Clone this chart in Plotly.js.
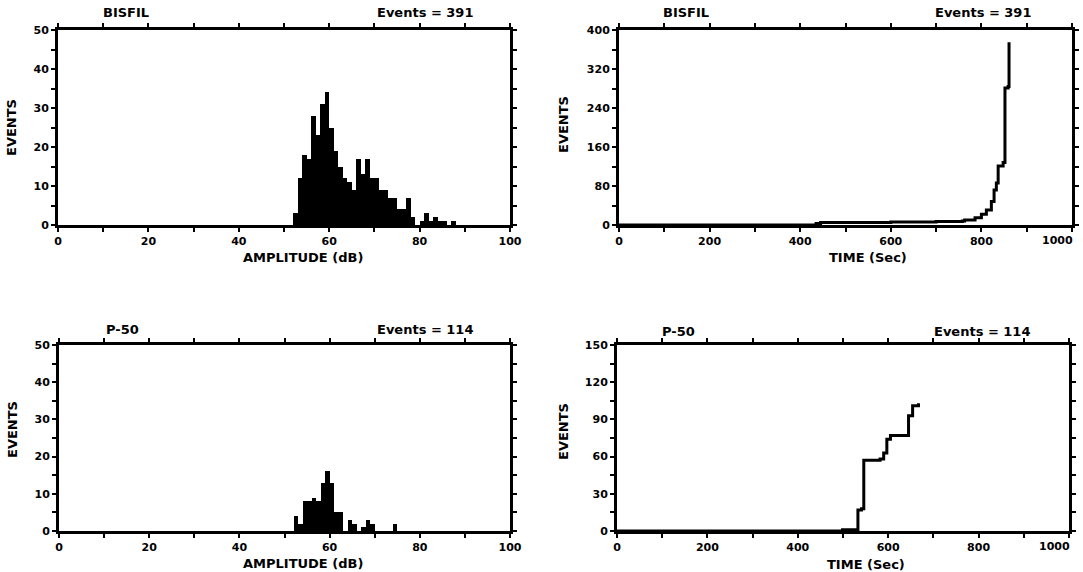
<!DOCTYPE html>
<html>
<head>
<meta charset="utf-8">
<script src="https://cdn.plot.ly/plotly-3.0.1.min.js"></script>
<style>
  html, body { margin: 0; padding: 0; background: #ffffff; }
  #chart { width: 1083px; height: 572px; }
</style>
</head>
<body>
<div id="chart"></div>
<script>
// ---- Data ----
// Amplitude histograms: 1 dB bins, lower edge of each bin in dB
const bisfilAmpBins   = [52,53,54,55,56,57,58,59,60,61,62,63,64,65,66,67,68,69,70,71,72,73,74,75,76,77,78,79,80,81,82,83,84,85,86,87];
const bisfilAmpCounts = [3,12,18,17,28,23,31,34,25,19,15,12,11,9,17,13,17,12,12,9,9,7,7,4,4,7,2,0,1,3,1,2,1,1,0,1];

const p50AmpBins   = [52,53,54,55,56,57,58,59,60,61,62,63,64,65,66,67,68,69,70,71,72,73,74];
const p50AmpCounts = [4,2,8,8,9,8,13,16,13,5,5,0,3,2,0,1,3,2,0,0,0,0,2];

// Cumulative events vs time (s)
const bisfilTime   = [0,435,445,600,700,758,763,786,800,811,822,828,833,837,848,852,859,861];
const bisfilCum    = [0,3,5,6,7,8,10,15,22,31,48,72,86,121,128,281,284,375];

const p50Time = [0,499,533,541,546,582,590,597,605,645,654,667];
const p50Cum  = [0,1,17,18,57,58,63,74,77,93,101,103];

const ampTickVals  = [0,20,40,60,80,100];
const timeTickVals = [0,200,400,600,800,1000];
const bisfilCumTicks = [0,80,160,240,320,400];
const p50CumTicks    = [0,30,60,90,120,150];
const ampEventTicks  = [0,10,20,30,40,50];

const titles = {
  tl: ["BISFIL", "Events = 391"],
  tr: ["BISFIL", "Events = 391"],
  bl: ["P-50",   "Events = 114"],
  br: ["P-50",   "Events = 114"]
};

// ---- Helpers ----
const W = 1083, H = 572;
const FONT = {family: "DejaVu Sans, Liberation Sans, sans-serif", size: 11, color: "#000", weight: "bold"};
const px = v => v / W;
const py = v => 1 - v / H;

function axisX(dom, range, tickvals, minorStep, anchor, hideLast) {
  const txt = tickvals.map(String);
  if (hideLast) txt[txt.length - 1] = "";
  return {
    domain: dom, range: range, anchor: anchor,
    tickmode: "array", tickvals: tickvals, ticktext: txt,
    ticks: "outside", ticklen: 4, tickwidth: 2, tickcolor: "#000",
    minor: {dtick: minorStep, ticks: "outside", ticklen: 4, tickwidth: 2, tickcolor: "#000"},
    showline: true, linewidth: 3, linecolor: "#000", mirror: "allticks",
    showgrid: false, zeroline: false, tickfont: FONT, fixedrange: true,
    ticklabeloverflow: "allow"
  };
}
function axisY(dom, range, tickvals, minorStep, anchor) {
  return {
    domain: dom, range: range, anchor: anchor,
    tickmode: "array", tickvals: tickvals, ticktext: tickvals.map(String),
    ticks: "outside", ticklen: 4, tickwidth: 2, tickcolor: "#000",
    minor: {dtick: minorStep, tick0: 0, ticks: "outside", ticklen: 4, tickwidth: 2, tickcolor: "#000"},
    showline: true, linewidth: 3, linecolor: "#000", mirror: "allticks",
    showgrid: false, zeroline: false, tickfont: FONT, fixedrange: true,
    ticklabeloverflow: "allow"
  };
}

// Panel geometry in pixels [left, right, top, bottom]
const G = {
  tl: [58, 510, 30, 225],
  tr: [619, 1072, 30, 225],
  bl: [59, 510, 345, 531],
  br: [617, 1069, 345, 531]
};
const xd = g => [px(g[0]), px(g[1])];
const yd = g => [py(g[3]), py(g[2])];

const traces = [
  {type: "bar", x: bisfilAmpBins.map(b => b + 0.5), y: bisfilAmpCounts, width: 1,
   marker: {color: "#000", line: {width: 0}}, xaxis: "x", yaxis: "y"},
  {type: "scatter", mode: "lines", x: bisfilTime, y: bisfilCum, line: {shape: "hv", color: "#000", width: 3},
   xaxis: "x2", yaxis: "y2"},
  {type: "bar", x: p50AmpBins.map(b => b + 0.5), y: p50AmpCounts, width: 1,
   marker: {color: "#000", line: {width: 0}}, xaxis: "x3", yaxis: "y3"},
  {type: "scatter", mode: "lines", x: p50Time, y: p50Cum, line: {shape: "hv", color: "#000", width: 3},
   xaxis: "x4", yaxis: "y4"}
];

const TFONT = {family: FONT.family, size: 13, color: "#000", weight: "bold"};
function ann(text, x, y, opts) {
  return Object.assign({text: text, x: px(x), y: py(y), xref: "paper", yref: "paper",
    showarrow: false, font: TFONT, xanchor: "center", yanchor: "middle"}, opts || {});
}

const annotations = [
  ann(titles.tl[0], 126, 13), ann(titles.tl[1], 425, 13),
  ann(titles.tr[0], 686, 13), ann(titles.tr[1], 983, 13),
  ann(titles.bl[0], 122, 329), ann(titles.bl[1], 425, 329),
  ann(titles.br[0], 678, 331), ann(titles.br[1], 982, 331),
  ann("AMPLITUDE (dB)", 303, 257), ann("TIME (Sec)", 868, 257),
  ann("AMPLITUDE (dB)", 303, 563), ann("TIME (Sec)", 866, 564),
  ann("EVENTS", 12, 128, {textangle: -90}), ann("EVENTS", 563, 125, {textangle: -90}),
  ann("EVENTS", 12, 430, {textangle: -90}), ann("EVENTS", 563, 432, {textangle: -90}),
  // last time tick labels sit flush against the right frame, as in the reference
  ann(String(timeTickVals[timeTickVals.length - 1]), 1075, 240.5, {xanchor: "right", font: FONT}),
  ann(String(timeTickVals[timeTickVals.length - 1]), 1072, 546.5, {xanchor: "right", font: FONT})
];

const layout = {
  width: W, height: H,
  margin: {l: 0, r: 0, t: 0, b: 0},
  paper_bgcolor: "#fff", plot_bgcolor: "#fff",
  showlegend: false, bargap: 0,
  font: FONT,
  xaxis:  axisX(xd(G.tl), [0, 100], ampTickVals, 10, "y", false),
  yaxis:  axisY(yd(G.tl), [0, 50], ampEventTicks, 5, "x"),
  xaxis2: axisX(xd(G.tr), [0, 1000], timeTickVals, 100, "y2", true),
  yaxis2: axisY(yd(G.tr), [0, 400], bisfilCumTicks, 40, "x2"),
  xaxis3: axisX(xd(G.bl), [0, 100], ampTickVals, 10, "y3", false),
  yaxis3: axisY(yd(G.bl), [0, 50], ampEventTicks, 5, "x3"),
  xaxis4: axisX(xd(G.br), [0, 1000], timeTickVals, 100, "y4", true),
  yaxis4: axisY(yd(G.br), [0, 150], p50CumTicks, 15, "x4"),
  annotations: annotations
};

Plotly.newPlot("chart", traces, layout, {staticPlot: true, displayModeBar: false});
</script>
</body>
</html>
